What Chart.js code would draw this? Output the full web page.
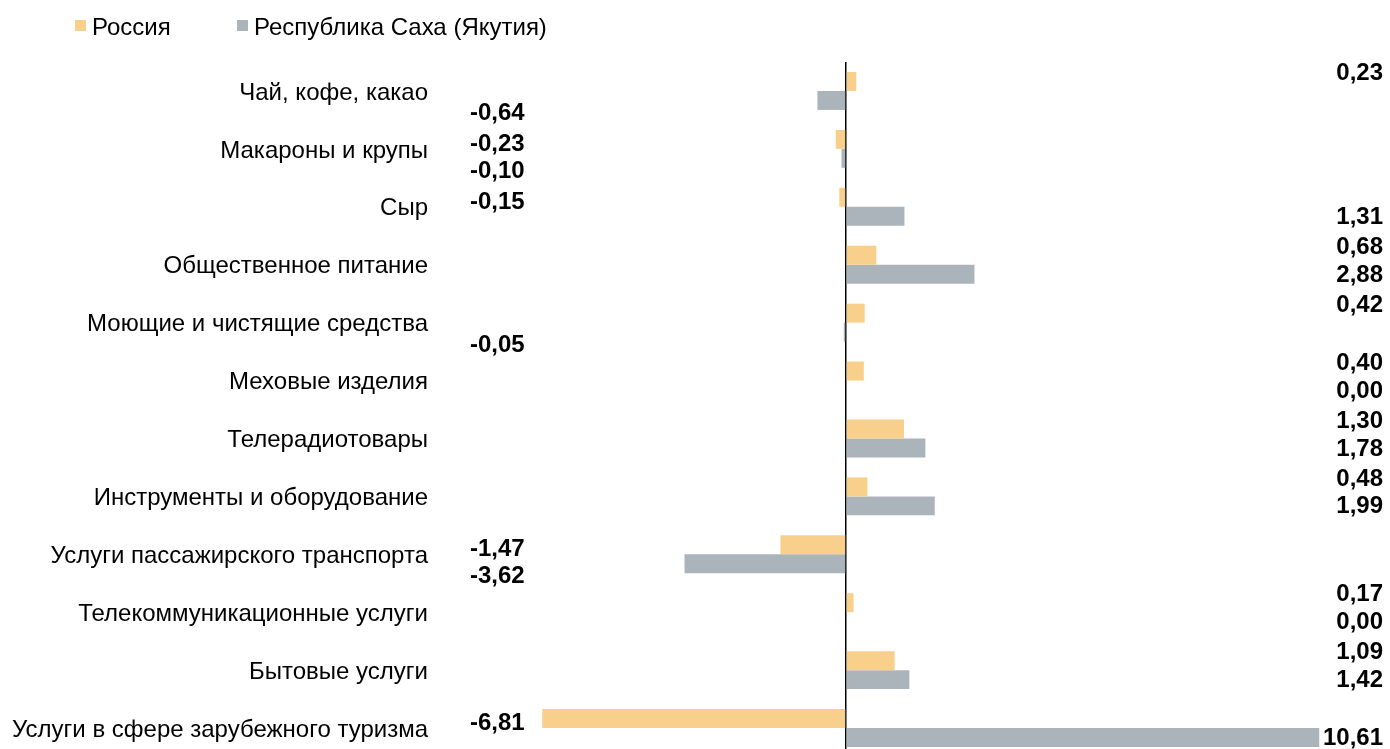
<!DOCTYPE html>
<html>
<head>
<meta charset="utf-8">
<script src="https://cdn.jsdelivr.net/npm/chart.js@4.4.1/dist/chart.umd.min.js"></script>
<style>
  html, body { margin: 0; padding: 0; background: #fff; overflow: hidden; }
  canvas { display: block; }
</style>
</head>
<body>
<canvas id="bar-chart" width="1390" height="760"></canvas>
<script>
const categories = [
  'Чай, кофе, какао',
  'Макароны и крупы',
  'Сыр',
  'Общественное питание',
  'Моющие и чистящие средства',
  'Меховые изделия',
  'Телерадиотовары',
  'Инструменты и оборудование',
  'Услуги пассажирского транспорта',
  'Телекоммуникационные услуги',
  'Бытовые услуги',
  'Услуги в сфере зарубежного туризма'
];
const russia = [0.23, -0.23, -0.15, 0.68, 0.42, 0.40, 1.30, 0.48, -1.47, 0.17, 1.09, -6.81];
const sakha = [-0.64, -0.10, 1.31, 2.88, -0.05, 0.00, 1.78, 1.99, -3.62, 0.00, 1.42, 10.61];
const seriesNames = ['Россия', 'Республика Саха (Якутия)'];

const FONT = '"Liberation Sans", Arial, sans-serif';
const ORANGE = '#F9D08B';
const GREY = '#ABB3BB';

// value labels: negatives on the left edge, positives on the right edge
const valueLabels = {
  id: 'valueLabels',
  afterDatasetsDraw(chart) {
    const ctx = chart.ctx;
    const area = chart.chartArea;
    ctx.save();
    ctx.font = 'bold 24px ' + FONT;
    ctx.fillStyle = '#000';
    ctx.textBaseline = 'middle';
    chart.data.datasets.forEach((ds, di) => {
      chart.getDatasetMeta(di).data.forEach((bar, i) => {
        const v = ds.data[i];
        const txt = v.toFixed(2).replace('.', ',');
        let dy;
        if (di === 0) dy = v < 0 ? 5 : -8;
        else dy = v < 0 ? 13 : 1;
        if (v < 0) {
          ctx.textAlign = 'left';
          ctx.fillText(txt, area.left, bar.y + dy);
        } else {
          ctx.textAlign = 'right';
          ctx.fillText(txt, area.right, bar.y + dy);
        }
      });
    });
    ctx.restore();
  }
};

// simple legend in the top left corner
const topLegend = {
  id: 'topLegend',
  afterDraw(chart) {
    const ctx = chart.ctx;
    ctx.save();
    ctx.font = '24px ' + FONT;
    ctx.textBaseline = 'middle';
    ctx.textAlign = 'left';
    const xs = [75, 237];
    chart.data.datasets.forEach((ds, i) => {
      ctx.fillStyle = ds.backgroundColor;
      ctx.fillRect(xs[i], 20, 11, 11);
      ctx.fillStyle = '#000';
      ctx.fillText(ds.label, xs[i] + 17, 28);
    });
    ctx.restore();
  }
};

const ctx = document.getElementById('bar-chart').getContext('2d');
new Chart(ctx, {
  type: 'bar',
  data: {
    labels: categories,
    datasets: [
      { label: seriesNames[0], data: russia, backgroundColor: ORANGE, categoryPercentage: 0.655, barPercentage: 1.0 },
      { label: seriesNames[1], data: sakha, backgroundColor: GREY, categoryPercentage: 0.655, barPercentage: 1.0 }
    ]
  },
  plugins: [valueLabels, topLegend],
  options: {
    indexAxis: 'y',
    responsive: false,
    animation: false,
    layout: { padding: { top: 62, right: 7, bottom: 3, left: 0 } },
    plugins: {
      legend: { display: false },
      tooltip: { enabled: false }
    },
    scales: {
      x: {
        min: -8.43,
        max: 12.04,
        ticks: { display: false, stepSize: 1 },
        border: { display: false },
        grid: {
          drawTicks: false,
          color: (c) => (c.tick && c.tick.value === 0 ? '#000' : 'rgba(0,0,0,0)'),
          lineWidth: (c) => (c.tick && c.tick.value === 0 ? 1.5 : 0)
        },
        afterFit(scale) { scale.height = 0; }
      },
      y: {
        grid: { display: false, drawTicks: false },
        border: { display: false },
        ticks: {
          color: '#000',
          padding: 42,
          labelOffset: 2,
          font: { family: FONT, size: 24 }
        },
        afterFit(scale) {
          scale.width = 470;
          // tick padding would otherwise be added above/below the axis
          scale.paddingTop = 0;
          scale.paddingBottom = 0;
        }
      }
    }
  }
});
</script>
</body>
</html>
